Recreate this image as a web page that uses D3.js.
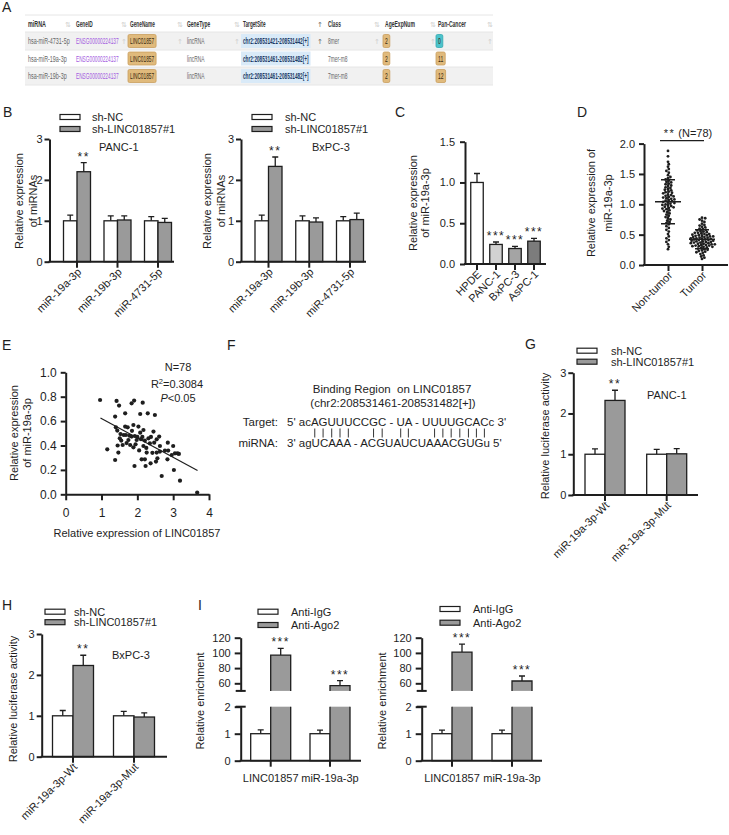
<!DOCTYPE html>
<html>
<head>
<meta charset="utf-8">
<script src="https://cdn.jsdelivr.net/npm/d3@7"></script>
<style>
  body { margin: 0; background: #fff; }
  svg text { font-family: "Liberation Sans", Arial, sans-serif; }
</style>
</head>
<body>
<script>
// ---------- data ----------
// A: miRNA table
var tableHeaders = ["miRNA", "GeneID", "GeneName", "GeneType", "TargetSite", "Class", "AgeExpNum", "Pan-Cancer"];
var tableMiRNA = ["hsa-miR-4731-5p", "hsa-miR-19a-3p", "hsa-miR-19b-3p"];
var tableGeneID = ["ENSG00000224137", "ENSG00000224137", "ENSG00000224137"];
var tableGeneName = ["LINC01857", "LINC01857", "LINC01857"];
var tableGeneType = ["lincRNA", "lincRNA", "lincRNA"];
var tableTargetSite = ["chr2:208531421-208531442[+]", "chr2:208531461-208531482[+]", "chr2:208531461-208531482[+]"];
var tableClass = ["8mer", "7mer-m8", "7mer-m8"];
var tableAgeExp = [2, 2, 2];
var tablePanCancer = [0, 11, 12];

// B: miRNA expression after knockdown
var shGroups = ["sh-NC", "sh-LINC01857#1"];
var bMirnas = ["miR-19a-3p", "miR-19b-3p", "miR-4731-5p"];
var bPancNC = [1, 1, 1], bPancNCErr = [0.14, 0.12, 0.1];
var bPancSh = [2.2, 1.02, 0.96], bPancShErr = [0.22, 0.1, 0.1];
var bPancStars = ["**", "", ""];
var bBxNC = [1, 1, 1], bBxNCErr = [0.14, 0.12, 0.1];
var bBxSh = [2.33, 0.97, 1.03], bBxShErr = [0.23, 0.1, 0.16];
var bBxStars = ["**", "", ""];

// C: cell lines
var cCells = ["HPDE", "PANC-1", "BxPC-3", "AsPC-1"];
var cValues = [1.0, 0.24, 0.19, 0.28];
var cErrors = [0.11, 0.03, 0.025, 0.035];
var cStars = ["", "***", "***", "***"];

// D: tissues
var dGroups = ["Non-tumor", "Tumor"];
var dNonTumor = [1.88, 1.79, 1.70, 1.66, 1.62, 1.58, 1.55, 1.52, 1.48, 1.45, 1.43, 1.41,
  1.39, 1.37, 1.36, 1.34, 1.33, 1.31, 1.30, 1.28, 1.27, 1.25, 1.24, 1.23, 1.21, 1.20,
  1.19, 1.18, 1.16, 1.15, 1.14, 1.13, 1.12, 1.11, 1.10, 1.09, 1.08, 1.07, 1.06, 1.05, 1.04, 1.03, 1.02, 1.01,
  1.00, 0.99, 0.98, 0.97, 0.96, 0.95, 0.94, 0.93, 0.92, 0.90, 0.89, 0.87, 0.85, 0.83, 0.81,
  0.79, 0.77, 0.75, 0.73, 0.71, 0.69, 0.67, 0.64, 0.61,
  0.58, 0.55, 0.51, 0.47, 0.44, 0.41, 0.38, 0.34, 0.30, 0.26];
var dTumor = [0.78, 0.77, 0.75, 0.73, 0.71, 0.68, 0.66, 0.65, 0.63, 0.62, 0.60,
  0.59, 0.58, 0.57, 0.56, 0.55, 0.54, 0.53, 0.53, 0.52, 0.51, 0.51, 0.50,
  0.49, 0.49, 0.48, 0.48, 0.47, 0.47, 0.46, 0.46, 0.45, 0.45, 0.44, 0.44, 0.43, 0.43, 0.42, 0.42, 0.41, 0.41, 0.40, 0.40,
  0.39, 0.39, 0.38, 0.38, 0.37, 0.37, 0.36, 0.36, 0.35, 0.35, 0.34, 0.34, 0.33, 0.33, 0.32, 0.32, 0.31, 0.31, 0.30, 0.30,
  0.29, 0.28, 0.27, 0.26, 0.25, 0.24, 0.23, 0.22, 0.21, 0.20,
  0.18, 0.16, 0.14, 0.12, 0.10];

// E: correlation
var eLinc = [0.96, 1.42, 1.49, 1.91, 1.84, 2.15, 1.66, 1.38, 2.08, 2.29, 2.49, 1.16, 1.38, 1.47, 1.40, 1.44,
  1.51, 1.66, 1.73, 1.62, 1.59, 1.75, 1.84, 1.80, 1.89, 1.93, 1.89, 2.03, 2.08, 1.98, 1.92, 2.10,
  2.17, 2.21, 2.17, 2.31, 2.35, 2.26, 2.21, 2.12, 2.23, 2.37, 2.45, 2.47, 2.54, 2.61, 2.63, 2.54,
  2.52, 2.56, 2.68, 2.63, 2.77, 2.85, 2.86, 2.84, 3.00, 3.05, 2.96, 3.12, 3.16, 3.02, 3.19, 3.67,
  1.68, 1.53, 1.55, 1.70, 1.78, 1.95, 2.00, 2.14, 2.25, 2.38, 1.45, 2.42, 2.05, 1.85];
var eMir = [0.773, 0.765, 0.727, 0.768, 0.746, 0.751, 0.664, 0.637, 0.658, 0.664, 0.650, 0.369, 0.281, 0.342, 0.549, 0.522,
  0.459, 0.555, 0.549, 0.486, 0.404, 0.445, 0.473, 0.404, 0.385, 0.478, 0.568, 0.555, 0.505, 0.445, 0.232, 0.452,
  0.527, 0.440, 0.396, 0.459, 0.418, 0.342, 0.287, 0.287, 0.232, 0.254, 0.514, 0.423, 0.451, 0.473, 0.396, 0.342,
  0.268, 0.295, 0.150, 0.350, 0.358, 0.423, 0.358, 0.287, 0.396, 0.336, 0.322, 0.336, 0.331, 0.199, 0.112, 0.014,
  0.486, 0.494, 0.440, 0.420, 0.480, 0.410, 0.470, 0.470, 0.380, 0.470, 0.400, 0.340, 0.360, 0.520];
var eFitX = [0.97, 3.68], eFitY = [0.625, 0.195];

// F: binding sequences
var fTitle = ["Binding Region  on LINC01857", "(chr2:208531461-208531482[+])"];
var fTarget = "5' acAGUUUCCGC - UA - UUUUGCACc 3'";
var fMirna = "3' agUCAAA - ACGUAUCUAAACGUGu 5'";
var fPairs = [5, 6, 7, 8, 9, 12, 13, 17, 18, 23, 24, 25, 26, 27, 28, 29];

// G, H: luciferase
var lucCats = ["miR-19a-3p-Wt", "miR-19a-3p-Mut"];
var gNC = [1, 1], gNCErr = [0.13, 0.12], gSh = [2.32, 1.01], gShErr = [0.25, 0.13];
var hNC = [1, 1], hNCErr = [0.13, 0.11], hSh = [2.23, 0.97], hShErr = [0.25, 0.1];
var lucStars = ["**", ""];

// I: RIP
var ripGroups = ["Anti-IgG", "Anti-Ago2"];
var ripCats = ["LINC01857", "miR-19a-3p"];
var iLeftIgG = [1, 1], iLeftIgGErr = [0.14, 0.13], iLeftAgo = [97, 57], iLeftAgoErr = [9, 6.5];
var iRightIgG = [1, 1], iRightIgGErr = [0.13, 0.13], iRightAgo = [101, 63], iRightAgoErr = [10.5, 6.6];
var ripStars = ["***", "***"];

// ---------- setup ----------
var ink = "#1e1e1e", grey = "#9a9a9a";
var svg = d3.select("body").append("svg")
    .attr("width", 729).attr("height", 835)
    .style("background-color", "#fff");

function letter(t, x, y) {
  svg.append("text").attr("x", x).attr("y", y).style("font-size", "14px").attr("fill", ink).text(t);
}

function styleAxis(ax, fs) {
  ax.attr("font-family", null).attr("font-size", null);
  ax.selectAll("path, line").attr("stroke", ink).attr("stroke-width", 2);
  ax.selectAll("text").attr("fill", ink).style("font-size", (fs || 11) + "px");
}

function stars(g, txt, x, y) {
  g.append("text").attr("x", x).attr("y", y).attr("text-anchor", "middle")
    .style("font-size", "12px").style("letter-spacing", "1.5px").attr("fill", ink).text(txt);
}

function yLabel(g, lines, cy) {
  lines.forEach(function(l) {
    g.append("text").attr("transform", "translate(" + l[1] + "," + cy + ")rotate(-90)")
      .attr("text-anchor", "middle").style("font-size", "11px").attr("fill", ink).text(l[0]);
  });
}

function legend(g, x, y, dy, off, names, fills) {
  names.forEach(function(n, i) {
    g.append("rect").attr("x", x).attr("y", y + i * dy - 2.5).attr("width", 20).attr("height", 5)
      .attr("fill", fills[i]).attr("stroke", ink).attr("stroke-width", 1.2);
    g.append("text").attr("x", x + off).attr("y", y + i * dy + 4)
      .style("font-size", "11px").attr("fill", ink).text(n);
  });
}

function rotLabels(g, xpos, cats, y0) {
  g.selectAll(null).data(cats).join("text")
    .attr("transform", function(d) { return "translate(" + (xpos(d) + 5) + "," + (y0 + 11) + ")rotate(-45)"; })
    .attr("text-anchor", "end").style("font-size", "11px").attr("fill", ink).text(function(d) { return d; });
}

function bandX(cats, c0, c1, gw) {
  var step = (c1 - c0) / (cats.length - 1), pi = 1 - gw / step;
  return d3.scaleBand().domain(cats).range([c0 - step / 2, c1 + step / 2]).paddingInner(pi).paddingOuter(pi / 2);
}

// grouped bar chart with one-sided error bars (Prism style)
function groupChart(o) {
  var g = svg.append("g");
  var y = d3.scaleLinear().domain([0, o.yMax]).range([o.y0, o.yTop]);
  var x = bandX(o.cats, o.c0, o.c1, o.gw);
  var xi = d3.scaleBand().domain(o.series.map(function(s) { return s.name; })).range([0, x.bandwidth()]);

  o.series.forEach(function(s) {
    var cx = function(d) { return x(d) + xi(s.name) + xi.bandwidth() / 2; };
    g.selectAll(null).data(o.cats).join("path")
      .attr("d", function(d, i) {
        var a = y(s.vals[i]), b = y(s.vals[i] + s.errs[i]);
        return "M" + cx(d) + "," + a + "V" + b + "M" + (cx(d) - 3) + "," + b + "H" + (cx(d) + 3);
      })
      .attr("fill", "none").attr("stroke", ink).attr("stroke-width", 1.3);
    g.selectAll(null).data(o.cats).join("rect")
      .attr("x", function(d) { return x(d) + xi(s.name); })
      .attr("width", xi.bandwidth())
      .attr("y", function(d, i) { return y(s.vals[i]); })
      .attr("height", function(d, i) { return o.y0 - y(s.vals[i]); })
      .attr("fill", function(d, i) { return Array.isArray(s.fill) ? s.fill[i] : s.fill; })
      .attr("stroke", ink).attr("stroke-width", 1.3);
    if (s.stars) s.stars.forEach(function(t, i) {
      if (t) stars(g, t, cx(o.cats[i]), y(s.vals[i] + s.errs[i]) - 2);
    });
  });

  var ay = g.append("g").attr("transform", "translate(" + o.ax + ",0)")
    .call(d3.axisLeft(y).tickValues(o.ticks).tickFormat(d3.format(o.fmt))
      .tickSize(5).tickPadding(o.pad || 2).tickSizeOuter(0));
  styleAxis(ay);

  g.append("line").attr("x1", o.ax - 1).attr("x2", o.axEnd).attr("y1", o.y0).attr("y2", o.y0)
    .attr("stroke", ink).attr("stroke-width", 2);
  var axx = g.append("g").attr("transform", "translate(0," + o.y0 + ")")
    .call(d3.axisBottom(x).tickSize(6).tickSizeOuter(0).tickFormat(""));
  axx.select(".domain").remove();
  styleAxis(axx);
  rotLabels(g, function(d) { return x(d) + x.bandwidth() / 2; }, o.cats, o.y0);

  yLabel(g, o.ylab, o.ylabY);
  if (o.legend) legend(g, o.legend[0], o.legend[1], o.legend[2], o.legend[3], o.series.map(function(s) { return s.name; }), o.series.map(function(s) { return s.fill; }));
  if (o.note) g.append("text").attr("x", o.note[1]).attr("y", o.note[2]).style("font-size", "11px").attr("fill", ink).text(o.note[0]);
}

// ---------- A: table ----------
letter("A", 2, 12);
var tg = svg.append("g");
var colX = [28, 76, 130, 187, 243, 328, 385, 438];
var colSx = [0.6, 0.53, 0.53, 0.54, 0.52, 0.54, 0.56, 0.56];
var sortX = [68, 124, 180, 237, 320, 377, 433, 490];
var rowB = [15, 32, 50, 67, 85];
tg.append("rect").attr("x", 25).attr("y", 15).attr("width", 468).attr("height", 70).attr("fill", "#fff");
[1, 3].forEach(function(r) {
  tg.append("rect").attr("x", 25).attr("y", rowB[r]).attr("width", 468).attr("height", rowB[r + 1] - rowB[r]).attr("fill", "#f1f1f1");
});
rowB.forEach(function(yy) {
  tg.append("line").attr("x1", 25).attr("x2", 493).attr("y1", yy).attr("y2", yy).attr("stroke", "#e6e6e6");
});

function tText(j, ym, s, fill, bold) {
  return tg.append("text").attr("transform", "translate(" + colX[j] + "," + (ym + 3.2) + ")scale(" + colSx[j] + ",1)")
    .style("font-size", "9px").style("font-weight", bold ? "bold" : null).attr("fill", fill).text(s);
}
function badge(t, j, ym, fill, stroke) {
  var w = t.node().getComputedTextLength() * colSx[j];
  tg.insert("rect", function() { return t.node(); })
    .attr("x", colX[j] - 2).attr("y", ym - 6.5).attr("width", w + 4).attr("height", 13).attr("rx", 1.5)
    .attr("fill", fill).attr("stroke", stroke).attr("stroke-width", 0.8);
}
function sortIcon(j, ym, ch) {
  tg.append("text").attr("x", sortX[j]).attr("y", ym + 3).attr("text-anchor", "middle")
    .style("font-family", "DejaVu Sans").style("font-size", "7px")
    .attr("fill", j === 4 ? "#666" : "#cfcfcf").text(ch);
}

var hMid = (rowB[0] + rowB[1]) / 2;
tableHeaders.forEach(function(h, j) {
  tText(j, hMid, h, "#333", true);
  sortIcon(j, hMid, j === 4 ? "\u2191" : "\u21C5");
});

var tableRows = tableMiRNA.map(function(m, i) {
  return [m, tableGeneID[i], tableGeneName[i], tableGeneType[i], tableTargetSite[i], tableClass[i], tableAgeExp[i], tablePanCancer[i]];
});
tableRows.forEach(function(row, i) {
  var ym = (rowB[i + 1] + rowB[i + 2]) / 2;
  row.forEach(function(v, j) {
    var t;
    if (j === 1) t = tText(j, ym, v, "#a45de0");
    else if (j === 2) { t = tText(j, ym, v, "#3a2a10"); badge(t, j, ym, "#e0ba7c", "#c99e5e"); }
    else if (j === 4) {
      t = tText(j, ym, v, "#1d3a66", true);
      var w = t.node().getComputedTextLength() * colSx[j];
      tg.insert("rect", function() { return t.node(); }).attr("x", colX[j] - 2).attr("y", ym - 7)
        .attr("width", w + 4).attr("height", 14).attr("fill", "#d9eaf8");
    }
    else if (j === 6 || j === 7) {
      t = tText(j, ym, String(v), "#3a2a10");
      var teal = j === 7 && v === 0;
      badge(t, j, ym, teal ? "#4cc3cb" : "#e0ba7c", teal ? "#33a9b1" : "#c99e5e");
    }
    else t = tText(j, ym, v, "#666");
    if (i === 0 && j > 0) sortIcon(j, ym, "\u2191");
  });
});

// ---------- B ----------
letter("B", 3, 117);
groupChart({
  cats: bMirnas, yMax: 3, y0: 261.7, yTop: 139, ax: 49.5, axEnd: 174, c0: 77, c1: 158, gw: 27,
  ticks: [0, 1, 2, 3], fmt: "d",
  series: [
    {name: shGroups[0], vals: bPancNC, errs: bPancNCErr, fill: "#fff"},
    {name: shGroups[1], vals: bPancSh, errs: bPancShErr, fill: grey, stars: bPancStars}
  ],
  ylab: [["Relative expression", 23], ["of miRNAs", 37]], ylabY: 201,
  legend: [60, 117, 12, 32], note: ["PANC-1", 99, 151]
});
groupChart({
  cats: bMirnas, yMax: 3, y0: 261.7, yTop: 139, ax: 241, axEnd: 366, c0: 268.5, c1: 350, gw: 27,
  ticks: [0, 1, 2, 3], fmt: "d",
  series: [
    {name: shGroups[0], vals: bBxNC, errs: bBxNCErr, fill: "#fff"},
    {name: shGroups[1], vals: bBxSh, errs: bBxShErr, fill: grey, stars: bBxStars}
  ],
  ylab: [["Relative expression", 211], ["of miRNAs", 225]], ylabY: 201,
  legend: [252, 117, 12, 33], note: ["BxPC-3", 312, 151]
});

// ---------- C ----------
letter("C", 395, 117);
groupChart({
  cats: cCells, yMax: 1.5, y0: 264, yTop: 141.7, ax: 465, axEnd: 546, c0: 477, c1: 534, gw: 12.5,
  ticks: [0, 0.5, 1, 1.5], fmt: ".1f", pad: 5,
  series: [{name: "c", vals: cValues, errs: cErrors, fill: ["#fff", "#d2d2d2", "#a4a4a4", "#7c7c7c"], stars: cStars}],
  ylab: [["Relative expression", 417], ["of miR-19a-3p", 429]], ylabY: 203
});

// ---------- D ----------
letter("D", 577, 117);
(function() {
  var g = svg.append("g");
  var y = d3.scaleLinear().domain([0, 2]).range([265, 143.6]);
  var x = d3.scalePoint().domain(dGroups).range([668, 702]);
  var r = 1.4;
  function swarm(vals, cx) {
    var placed = [];
    vals.slice().sort(function(a, b) { return b - a; }).forEach(function(v) {
      var py = y(v);
      for (var k = 0; k < 400; k++) {
        var px = cx + (k % 2 ? 1 : -1) * Math.ceil(k / 2) * 0.8;
        var ok = placed.every(function(p) { return (p.x - px) * (p.x - px) + (p.y - py) * (p.y - py) >= 6.2; });
        if (ok) { placed.push({x: px, y: py}); break; }
      }
    });
    return placed;
  }
  [dNonTumor, dTumor].forEach(function(vals, gi) {
    var cx = x(dGroups[gi]);
    g.selectAll(null).data(swarm(vals, cx)).join("circle")
      .attr("cx", function(d) { return d.x; }).attr("cy", function(d) { return d.y; })
      .attr("r", r).attr("fill", ink);
    var m = d3.mean(vals), sd = d3.deviation(vals);
    g.append("path")
      .attr("d", "M" + (cx - 13) + "," + y(m) + "H" + (cx + 13) +
        "M" + cx + "," + y(m - sd) + "V" + y(m + sd) +
        "M" + (cx - 7) + "," + y(m - sd) + "H" + (cx + 7) +
        "M" + (cx - 7) + "," + y(m + sd) + "H" + (cx + 7))
      .attr("stroke", ink).attr("stroke-width", 1.5).attr("fill", "none");
  });
  var ay = g.append("g").attr("transform", "translate(644,0)")
    .call(d3.axisLeft(y).tickValues([0, 0.5, 1, 1.5, 2]).tickFormat(d3.format(".1f")).tickSize(5).tickPadding(4).tickSizeOuter(0));
  styleAxis(ay);
  g.append("line").attr("x1", 643).attr("x2", 728).attr("y1", 265).attr("y2", 265).attr("stroke", ink).attr("stroke-width", 2);
  var axx = g.append("g").attr("transform", "translate(0,265)")
    .call(d3.axisBottom(x).tickSize(6).tickSizeOuter(0).tickFormat(""));
  axx.select(".domain").remove();
  styleAxis(axx);
  rotLabels(g, x, dGroups, 265);
  yLabel(g, [["Relative expression of", 595], ["miR-19a-3p", 612]], 203);
  g.append("line").attr("x1", 660).attr("x2", 704).attr("y1", 140.7).attr("y2", 140.7).attr("stroke", ink).attr("stroke-width", 1.2);
  var t = g.append("text").attr("x", 688).attr("y", 137).attr("text-anchor", "middle").style("font-size", "11px").attr("fill", ink);
  t.append("tspan").style("letter-spacing", "1.5px").text("**");
  t.append("tspan").text(" (N=78)");
})();

// ---------- E ----------
letter("E", 2, 350);
(function() {
  var g = svg.append("g");
  var x = d3.scaleLinear().domain([0, 4]).range([65.7, 209]);
  var y = d3.scaleLinear().domain([0, 1]).range([494.3, 372.3]);
  g.selectAll(null).data(eLinc).join("circle")
    .attr("cx", function(d) { return x(d); })
    .attr("cy", function(d, i) { return y(eMir[i]); })
    .attr("r", 2.1).attr("fill", ink);
  g.append("line").attr("x1", x(eFitX[0])).attr("y1", y(eFitY[0])).attr("x2", x(eFitX[1])).attr("y2", y(eFitY[1]))
    .attr("stroke", ink).attr("stroke-width", 1.2);
  var ay = g.append("g").attr("transform", "translate(65.7,0)")
    .call(d3.axisLeft(y).tickValues([0, 0.2, 0.4, 0.6, 0.8, 1]).tickFormat(d3.format(".1f")).tickSize(5).tickPadding(4).tickSizeOuter(0));
  styleAxis(ay, 12);
  var ax = g.append("g").attr("transform", "translate(0,494.3)")
    .call(d3.axisBottom(x).tickValues([0, 1, 2, 3, 4]).tickFormat(d3.format("d")).tickSize(6).tickPadding(8).tickSizeOuter(0));
  styleAxis(ax, 12);
  yLabel(g, [["Relative expression", 18], ["of miR-19a-3p", 31]], 433);
  g.append("text").attr("x", 137).attr("y", 537).attr("text-anchor", "middle").style("font-size", "11px").attr("fill", ink)
    .text("Relative expression of LINC01857");
  g.append("text").attr("x", 178).attr("y", 371).attr("text-anchor", "middle").style("font-size", "11px").attr("fill", ink).text("N=78");
  var r2 = g.append("text").attr("x", 177).attr("y", 387.5).attr("text-anchor", "middle").style("font-size", "11px").attr("fill", ink);
  r2.append("tspan").text("R");
  r2.append("tspan").attr("dy", -4).style("font-size", "7.5px").text("2");
  r2.append("tspan").attr("dy", 4).text("=0.3084");
  var pv = g.append("text").attr("x", 178).attr("y", 401.5).attr("text-anchor", "middle").style("font-size", "11px").attr("fill", ink);
  pv.append("tspan").style("font-style", "italic").text("P");
  pv.append("tspan").text("<0.05");
})();

// ---------- F ----------
letter("F", 227, 350);
(function() {
  var g = svg.append("g");
  g.append("text").attr("x", 392).attr("y", 393).attr("text-anchor", "middle").style("white-space", "pre")
    .style("font-size", "11.5px").attr("fill", ink).text(fTitle[0]);
  g.append("text").attr("x", 393).attr("y", 407).attr("text-anchor", "middle")
    .style("font-size", "11.5px").attr("fill", ink).text(fTitle[1]);
  g.append("text").attr("x", 278).attr("y", 426).attr("text-anchor", "end").style("font-size", "11.5px").attr("fill", ink).text("Target:");
  g.append("text").attr("x", 278).attr("y", 447).attr("text-anchor", "end").style("font-size", "11.5px").attr("fill", ink).text("miRNA:");
  var tt = g.append("text").attr("x", 287).attr("y", 426).style("white-space", "pre").style("font-size", "11.5px").attr("fill", ink).text(fTarget);
  g.append("text").attr("x", 287).attr("y", 447).style("white-space", "pre").style("font-size", "11.5px").attr("fill", ink).text(fMirna);
  var node = tt.node();
  fPairs.forEach(function(i) {
    var a = node.getStartPositionOfChar(i), b = node.getEndPositionOfChar(i);
    var cx = (a.x + b.x) / 2;
    g.append("line").attr("x1", cx).attr("x2", cx).attr("y1", 428.5).attr("y2", 437.5).attr("stroke", ink).attr("stroke-width", 0.9);
  });
})();

// ---------- G ----------
letter("G", 525, 349);
groupChart({
  cats: lucCats, yMax: 3, y0: 495, yTop: 372.7, ax: 573.3, axEnd: 698, c0: 605, c1: 666.7, gw: 40,
  ticks: [0, 1, 2, 3], fmt: "d",
  series: [
    {name: shGroups[0], vals: gNC, errs: gNCErr, fill: "#fff"},
    {name: shGroups[1], vals: gSh, errs: gShErr, fill: grey, stars: lucStars}
  ],
  ylab: [["Relative luciferase activity", 549]], ylabY: 436,
  legend: [577, 350.7, 11, 34], note: ["PANC-1", 647, 399]
});

// ---------- H ----------
letter("H", 2, 610);
groupChart({
  cats: lucCats, yMax: 3, y0: 756.7, yTop: 634, ax: 41.7, axEnd: 167, c0: 73, c1: 134, gw: 41,
  ticks: [0, 1, 2, 3], fmt: "d",
  series: [
    {name: shGroups[0], vals: hNC, errs: hNCErr, fill: "#fff"},
    {name: shGroups[1], vals: hSh, errs: hShErr, fill: grey, stars: lucStars}
  ],
  ylab: [["Relative luciferase activity", 17]], ylabY: 699,
  legend: [45, 611.7, 10.5, 29], note: ["BxPC-3", 112, 659]
});

// ---------- I: broken axis RIP charts ----------
letter("I", 198, 610);
function ripChart(o) {
  var g = svg.append("g");
  var yU = d3.scaleLinear().domain([50, 120]).range([690.9, 637.7]);
  var yL = d3.scaleLinear().domain([0, 2]).range([760.7, 706.7]);
  var x = bandX(ripCats, o.c0, o.c1, 40);
  var xi = d3.scaleBand().domain(ripGroups).range([0, x.bandwidth()]);
  var w = xi.bandwidth();
  ripCats.forEach(function(c, i) {
    // IgG bar
    var x0 = x(c) + xi(ripGroups[0]), cx0 = x0 + w / 2;
    var b = yL(o.igg[i] + o.iggErr[i]);
    g.append("path").attr("d", "M" + cx0 + "," + yL(o.igg[i]) + "V" + b + "M" + (cx0 - 3) + "," + b + "H" + (cx0 + 3))
      .attr("stroke", ink).attr("stroke-width", 1.3).attr("fill", "none");
    g.append("rect").attr("x", x0).attr("width", w).attr("y", yL(o.igg[i])).attr("height", yL(0) - yL(o.igg[i]))
      .attr("fill", "#fff").attr("stroke", ink).attr("stroke-width", 1.3);
    // Ago2 bar, split over both segments
    var x1 = x(c) + xi(ripGroups[1]), cx1 = x1 + w / 2;
    g.append("rect").attr("x", x1).attr("width", w).attr("y", yL(2)).attr("height", yL(0) - yL(2)).attr("fill", grey);
    g.append("path").attr("d", "M" + x1 + "," + yL(0) + "V" + yL(2) + "M" + (x1 + w) + "," + yL(2) + "V" + yL(0))
      .attr("stroke", ink).attr("stroke-width", 1.3).attr("fill", "none");
    var top = yU(o.ago[i]), eb = yU(o.ago[i] + o.agoErr[i]);
    g.append("path").attr("d", "M" + cx1 + "," + top + "V" + eb + "M" + (cx1 - 3) + "," + eb + "H" + (cx1 + 3))
      .attr("stroke", ink).attr("stroke-width", 1.3).attr("fill", "none");
    g.append("rect").attr("x", x1).attr("width", w).attr("y", top).attr("height", yU(50) - top).attr("fill", grey);
    g.append("path").attr("d", "M" + x1 + "," + yU(50) + "V" + top + "H" + (x1 + w) + "V" + yU(50))
      .attr("stroke", ink).attr("stroke-width", 1.3).attr("fill", "none");
    stars(g, ripStars[i], cx1, eb - 2);
  });
  var au = g.append("g").attr("transform", "translate(" + o.ax + ",0)")
    .call(d3.axisLeft(yU).tickValues([60, 80, 100, 120]).tickFormat(d3.format("d")).tickSize(6).tickPadding(4).tickSizeOuter(0));
  styleAxis(au);
  var al = g.append("g").attr("transform", "translate(" + o.ax + ",0)")
    .call(d3.axisLeft(yL).tickValues([0, 1, 2]).tickFormat(d3.format("d")).tickSize(6).tickPadding(4).tickSizeOuter(0));
  styleAxis(al);
  [yU(50), yL(2)].forEach(function(yy) {
    g.append("line").attr("x1", o.ax - 5).attr("x2", o.ax + 5).attr("y1", yy).attr("y2", yy).attr("stroke", ink).attr("stroke-width", 2);
  });
  g.append("line").attr("x1", o.ax - 1).attr("x2", o.axEnd).attr("y1", yL(0)).attr("y2", yL(0)).attr("stroke", ink).attr("stroke-width", 2);
  var axx = g.append("g").attr("transform", "translate(0," + yL(0) + ")")
    .call(d3.axisBottom(x).tickSize(6).tickSizeOuter(0).tickFormat(""));
  axx.select(".domain").remove();
  styleAxis(axx);
  g.selectAll(null).data(ripCats).join("text")
    .attr("x", function(d) { return x(d) + x.bandwidth() / 2; }).attr("y", 782)
    .attr("text-anchor", "middle").style("font-size", "11px").attr("fill", ink).text(function(d) { return d; });
  yLabel(g, [["Relative enrichment", o.ylx]], 701);
  legend(g, o.leg[0], o.leg[1], o.leg[2], 33, ripGroups, ["#fff", grey]);
}
ripChart({ax: 240.7, axEnd: 361, c0: 270.7, c1: 330, igg: iLeftIgG, iggErr: iLeftIgGErr, ago: iLeftAgo, agoErr: iLeftAgoErr, ylx: 204, leg: [258, 611.7, 13.3]});
ripChart({ax: 421.7, axEnd: 542, c0: 452, c1: 512, igg: iRightIgG, iggErr: iRightIgGErr, ago: iRightAgo, agoErr: iRightAgoErr, ylx: 386, leg: [440, 609, 13.7]});
</script>
</body>
</html>
